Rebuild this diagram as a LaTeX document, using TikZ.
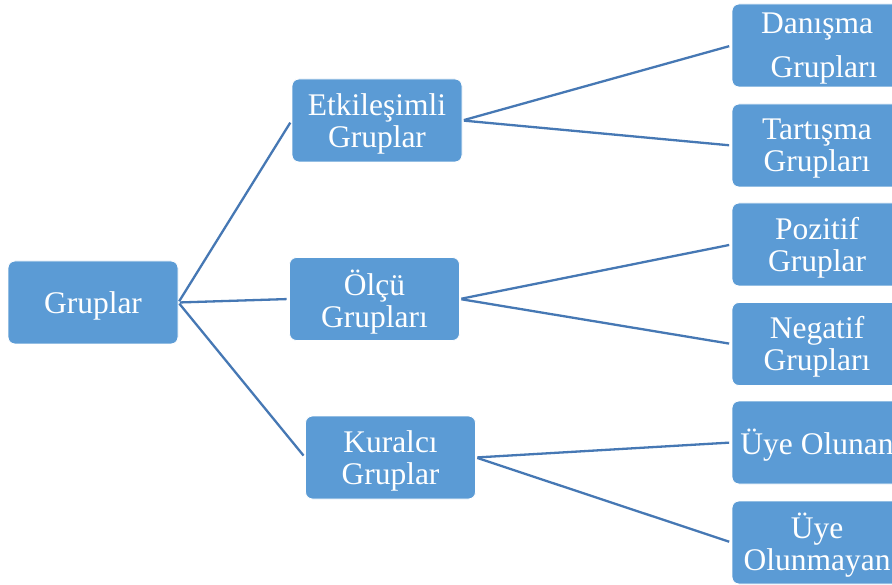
\documentclass[tikz,border=0pt]{standalone}
\usepackage{fontspec}
\setmainfont{Liberation Serif}
\definecolor{boxblue}{RGB}{91,155,213}
\definecolor{linkblue}{RGB}{70,120,180}
\begin{document}
\begin{tikzpicture}[x=1pt,y=-1pt,
  box/.style={rectangle, rounded corners=7pt, fill=boxblue, draw=white, line width=0.8pt,
    minimum width=170pt, minimum height=83pt, inner sep=0pt},
  lbl/.style={text=white, align=center, inner sep=0pt, yshift=-3pt,
    font=\fontsize{31.5pt}{32pt}\selectfont},
  link/.style={draw=linkblue, line width=2.3pt, shorten <=1.5pt, shorten >=2.5pt}]
  \clip (0,0) rectangle (892,585);
  \fill[white] (0,0) rectangle (892,585);
  % root
  \node[box, label={[lbl]center:Gruplar}] (root) at (93,302.5) {};
  % second level
  \node[box, label={[lbl]center:Etkileşimli\\Gruplar}] (etk) at (377,120.5) {};
  \node[box, label={[lbl]center:Ölçü\\Grupları}] (olc) at (374.5,299) {};
  \node[box, label={[lbl]center:Kuralcı\\Gruplar}] (kur) at (390.5,457.5) {};
  % third level
  \node[box, label={[lbl]center:Danışma\\[12pt]\hspace*{14pt}Grupları}] (dan) at (817,45.5) {};
  \node[box, label={[lbl]center:Tartışma\\Grupları}] (tar) at (817,145.5) {};
  \node[box, label={[lbl]center:Pozitif\\Gruplar}] (poz) at (817,244.5) {};
  \node[box, label={[lbl]center:Negatif\\Grupları}] (neg) at (817,344) {};
  \node[box, label={[lbl]center:Üye Olunan}] (uol) at (817,442.5) {};
  \node[box, label={[lbl]center:Üye\\Olunmayan}] (uom) at (817,542.5) {};
  % connectors
  \draw[link] (root.east) -- (etk.west);
  \draw[link] (root.east) -- (olc.west);
  \draw[link] (root.east) -- (kur.west);
  \draw[link] (etk.east) -- (dan.west);
  \draw[link] (etk.east) -- (tar.west);
  \draw[link] (olc.east) -- (poz.west);
  \draw[link] (olc.east) -- (neg.west);
  \draw[link] (kur.east) -- (uol.west);
  \draw[link] (kur.east) -- (uom.west);
\end{tikzpicture}
\end{document}
